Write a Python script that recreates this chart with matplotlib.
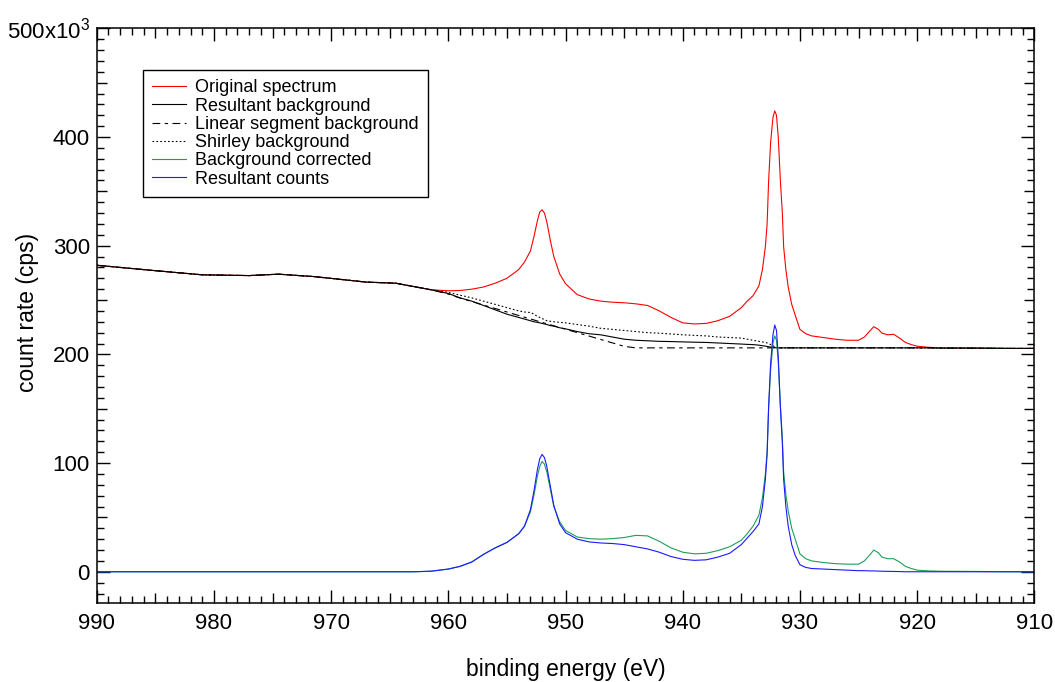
import matplotlib

matplotlib.use("Agg")
import matplotlib.pyplot as plt
from matplotlib.ticker import FuncFormatter, MultipleLocator

plt.rcParams["font.family"] = ["Liberation Sans", "DejaVu Sans"]
plt.rcParams["mathtext.fontset"] = "custom"
plt.rcParams["mathtext.rm"] = "Liberation Sans"

# binding energy grid (eV), values in 10^3 cps
energy = [
    990, 985, 981, 977, 974.5, 971.5, 967, 964.5, 963, 961.5,
    960, 959, 958, 957, 956, 955, 954, 953.5, 953, 952.7,
    952.4, 952.2, 952.0, 951.8, 951.6, 951.3, 951.0, 950.5, 950, 949,
    948, 947, 946, 945, 944, 943, 942, 941, 940, 939,
    938, 937, 936, 935, 934.5, 934, 933.5, 933.2, 932.95, 932.8,
    932.67, 932.5, 932.3, 932.15, 932.0, 931.85, 931.67, 931.5, 931.39, 931.2,
    931.0, 930.7, 930.4, 930.0, 929.5, 929, 928, 927, 926, 925,
    924.5, 924, 923.7, 923.3, 923, 922.5, 922, 921.5, 921, 920.5,
    920, 919, 918, 915, 912, 910,
]

original = [
    282, 277, 273.2, 272.5, 273.8, 271.6, 266.5, 265.5, 262.5, 259.5,
    258.5, 258.8, 260, 262, 265.5, 270, 278, 285, 295, 308,
    323, 331, 333, 330, 322, 305, 290, 274, 265, 255,
    251, 249, 248, 247.5, 246.5, 245, 240, 234, 229, 228,
    228.5, 231, 235, 243, 249, 254, 263, 278, 299, 320,
    360, 395, 418, 424, 420, 400, 360, 330, 299, 278,
    262, 246, 236, 223, 219, 217, 215.5, 214, 213, 213,
    216, 222, 225.5, 223, 219.5, 218, 218.5, 215, 211, 209,
    207.5, 206.5, 206, 206, 205.5, 205.5,
]

resultant_bg = [
    282, 277, 273.2, 272.5, 273.8, 271.6, 266.5, 265.5, 262.5, 259.5,
    256, 252, 249, 245, 241, 237, 234, 232.5, 231, 230,
    229.5, 229, 228.5, 228, 227.5, 226.5, 226, 224.5, 223.5, 221,
    219, 218, 216, 214, 213, 212.5, 212, 211.8, 211.5, 211.2,
    211, 210.5, 210, 209.5, 209.2, 209, 208.5, 208, 207.6, 207.3,
    207, 206.8, 206.5, 206.3, 206, 206, 206, 206, 206, 206,
    206, 206, 206, 206, 206, 206, 206, 206, 206, 206,
    206, 206, 206, 206, 206, 206, 206, 206, 206, 206,
    206, 206, 205.8, 205.7, 205.5, 205.5,
]

linear_bg = [
    282, 277, 273.2, 272.5, 273.8, 271.6, 266.5, 265.5, 262.5, 259.5,
    255.5, 251.8, 248.6, 245.4, 242.2, 239, 235.8, 234.2, 232.6, 231.7,
    230.7, 230.1, 229.5, 228.8, 228.2, 227.3, 226.3, 224.7, 223.2, 220,
    216.9, 213.7, 210.6, 207.4, 206, 206, 206, 206, 206, 206,
    206, 206, 206, 206, 206, 206, 206, 206, 206, 206,
    206, 206, 206, 206, 206, 206, 206, 206, 206, 206,
    206, 206, 206, 206, 206, 206, 206, 206, 206, 206,
    206, 206, 206, 206, 206, 206, 206, 206, 206, 206,
    206, 206, 205.8, 205.7, 205.5, 205.5,
]

shirley_bg = [
    282, 277, 273.2, 272.5, 273.8, 271.6, 266.5, 265.5, 262.5, 259.5,
    257, 254.5, 252, 249, 246, 243, 240, 239, 238.5, 237,
    235, 234, 233, 232, 231, 230.5, 230, 229.5, 229, 227.5,
    226, 224, 223, 222, 221, 220, 219.5, 218.8, 218, 217.5,
    217, 216, 215.5, 215, 214, 213, 212, 211.5, 211, 210.5,
    210, 209, 208, 207, 206.5, 206, 206, 206, 206, 206,
    206, 206, 206, 206, 206, 206, 206, 206, 206, 206,
    206, 206, 206, 206, 206, 206, 206, 206, 206, 206,
    206, 206, 205.8, 205.7, 205.5, 205.5,
]

bg_corrected = [
    0, 0, 0, 0, 0, 0, 0, 0, 0, 0.5,
    2.5, 5, 9, 16, 22, 27, 35, 42, 55, 70,
    88, 97, 101.5, 99, 92, 76, 60, 46, 38, 32,
    30.5, 30, 30.5, 31.5, 33.5, 33, 28, 22, 18, 16.5,
    17, 19.5, 23, 29, 35, 42, 52, 68, 90, 111,
    151, 186, 210, 217, 213, 193, 153, 123, 92, 71,
    56, 40, 30, 16.5, 12, 10, 8.5, 7.5, 7, 7,
    10, 16, 20, 17.5, 13.5, 12, 12, 9, 5, 3,
    1.5, 0.8, 0.5, 0.3, 0, 0,
]

resultant_counts = [
    0, 0, 0, 0, 0, 0, 0, 0, 0, 0.5,
    2.5, 5, 9, 16, 22, 27, 35, 42, 57, 74,
    94, 104, 108, 105, 97, 79, 61, 44, 36, 30,
    27.5, 26.5, 26, 25, 23, 21, 18, 14, 11.5, 10.5,
    11, 13.5, 17, 25, 31, 37, 44, 60, 85, 108,
    152, 192, 218, 227, 222, 198, 152, 118, 85, 60,
    42, 25, 15, 6.5, 4, 3, 2.5, 2, 1.5, 1,
    1, 0.8, 0.8, 0.6, 0.5, 0.4, 0.3, 0.2, 0, 0,
    0, 0, 0, 0, 0, 0,
]


def y_label(value, _pos):
    if abs(value - 500) < 1e-6:
        return r"500x10$^{3}$"
    if abs(value % 100) < 1e-6:
        return f"{value:.0f}"
    return ""


def x_label(value, _pos):
    if abs(value % 10) < 1e-6:
        return f"{value:.0f}"
    return ""


fig = plt.figure(figsize=(10.55, 6.82), dpi=100)
ax = fig.add_axes([0.0917, 0.1154, 0.8887, 0.8431])

ax.plot(energy, original, color="#ff0000", lw=0.8, label="Original spectrum")
ax.plot(energy, resultant_bg, color="#000000", lw=0.8, label="Resultant background")
ax.plot(energy, linear_bg, color="#000000", lw=0.8, dashes=(7, 4, 3, 4),
        label="Linear segment background")
ax.plot(energy, shirley_bg, color="#000000", lw=0.8, dashes=(1.5, 2),
        label="Shirley background")
ax.plot(energy, bg_corrected, color="#1f9e5a", lw=0.8, label="Background corrected")
ax.plot(energy, resultant_counts, color="#1a1aff", lw=0.8, label="Resultant counts")

ax.set_xlim(990, 910)
ax.set_ylim(-29, 500)

ax.xaxis.set_major_locator(MultipleLocator(5))
ax.xaxis.set_minor_locator(MultipleLocator(1))
ax.yaxis.set_major_locator(MultipleLocator(50))
ax.yaxis.set_minor_locator(MultipleLocator(10))
ax.xaxis.set_major_formatter(FuncFormatter(x_label))
ax.yaxis.set_major_formatter(FuncFormatter(y_label))

ax.tick_params(which="both", direction="in", top=True, right=True, width=1.0,
               labelsize=16)
ax.tick_params(which="major", length=9.4)
ax.tick_params(which="minor", length=5)
ax.tick_params(axis="x", which="major", pad=7)
ax.tick_params(axis="y", which="major", pad=5)
for spine in ax.spines.values():
    spine.set_linewidth(1.1)

# ticks at the half steps are a bit shorter than the labelled ones
fig.canvas.draw()
for tick in ax.xaxis.get_major_ticks():
    if abs(tick.get_loc() % 10) > 1e-6:
        tick.tick1line.set_markersize(7.2)
        tick.tick2line.set_markersize(7.2)
for tick in ax.yaxis.get_major_ticks():
    if abs(tick.get_loc() % 100) > 1e-6:
        tick.tick1line.set_markersize(7.2)
        tick.tick2line.set_markersize(7.2)

ax.set_xlabel("binding energy (eV)", fontsize=16.5, labelpad=17)
fig.text(28 / 1055, 1 - 312 / 682, "count rate (cps)", fontsize=16.5,
         rotation=90, ha="center", va="center")

leg = ax.legend(loc="upper left", bbox_to_anchor=(0.049, 0.927), borderaxespad=0,
                fontsize=13, frameon=True, fancybox=False, framealpha=1,
                edgecolor="black", labelspacing=0.07, handlelength=1.9,
                handletextpad=0.5, borderpad=0.5)
leg.get_frame().set_linewidth(1.0)

fig.savefig("out.png", dpi=100)
